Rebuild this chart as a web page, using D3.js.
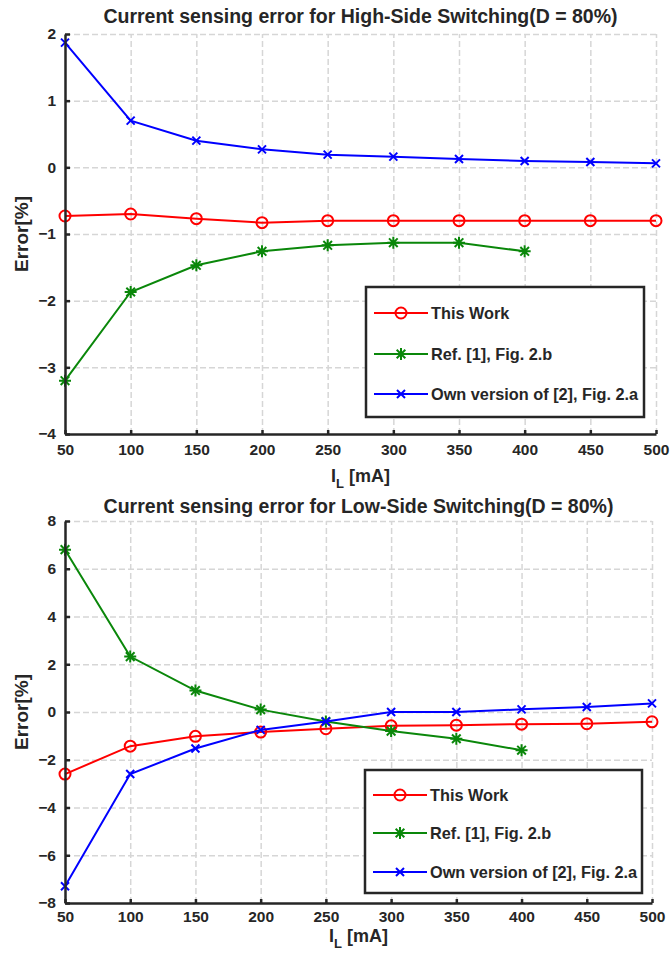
<!DOCTYPE html>
<html>
<head>
<meta charset="utf-8">
<script src="https://cdn.jsdelivr.net/npm/d3@7"></script>
<style>
  body { margin: 0; background: #fff; }
  text { font-family: "Liberation Sans", Arial, sans-serif; font-weight: bold; fill: #262626; }
</style>
</head>
<body>
<script>
// load current in mA
var currents = [50, 100, 150, 200, 250, 300, 350, 400, 450, 500];
var currentsRef = [50, 100, 150, 200, 250, 300, 350, 400];

// high-side switching error [%]
var highThisWork = [-0.73, -0.70, -0.77, -0.83, -0.80, -0.80, -0.80, -0.80, -0.80, -0.80];
var highRef1 = [-3.2, -1.87, -1.47, -1.26, -1.17, -1.13, -1.13, -1.26];
var highOwn2 = [1.87, 0.70, 0.40, 0.27, 0.19, 0.16, 0.125, 0.095, 0.08, 0.06];

// low-side switching error [%]
var lowThisWork = [-2.6, -1.43, -1.02, -0.84, -0.70, -0.58, -0.55, -0.51, -0.49, -0.41];
var lowRef1 = [6.8, 2.32, 0.9, 0.1, -0.4, -0.8, -1.12, -1.6];
var lowOwn2 = [-7.3, -2.6, -1.53, -0.75, -0.4, 0.0, 0.0, 0.11, 0.21, 0.36];

var xTicks = [50, 100, 150, 200, 250, 300, 350, 400, 450, 500];
var highYTicks = [-4, -3, -2, -1, 0, 1, 2];
var lowYTicks = [-8, -6, -4, -2, 0, 2, 4, 6, 8];

var seriesNames = ["This Work", "Ref. [1], Fig. 2.b", "Own version of [2], Fig. 2.a"];
var titles = ["Current sensing error for High-Side Switching(D = 80%)",
              "Current sensing error for Low-Side Switching(D = 80%)"];

var colors = ["#ff0000", "#0a870a", "#0000ff"];
var markers = ["circle", "star", "x"];

var svg = d3.select("body").append("svg")
    .attr("width", 670)
    .attr("height", 955);

function markerPath(type, s) {
  if (type == "star") {
    var d = s * 0.72;
    return "M" + (-s) + ",0H" + s + "M0," + (-s) + "V" + s +
      "M" + (-d) + "," + (-d) + "L" + d + "," + d + "M" + (-d) + "," + d + "L" + d + "," + (-d);
  }
  return "M" + (-s) + "," + (-s) + "L" + s + "," + s + "M" + (-s) + "," + s + "L" + s + "," + (-s);
}

function drawMarker(g, type, color, x, y) {
  if (type == "circle") {
    g.append("circle").attr("cx", x).attr("cy", y).attr("r", 5.5)
      .attr("fill", "none").attr("stroke", color).attr("stroke-width", 2);
  } else {
    g.append("path").attr("transform", "translate(" + x + "," + y + ")")
      .attr("d", markerPath(type, type == "star" ? 6 : 4))
      .attr("fill", "none").attr("stroke", color).attr("stroke-width", 2);
  }
}

function drawChart(cfg) {
  var g = svg.append("g");
  var x = d3.scaleLinear().domain([50, 500]).range([cfg.left, cfg.right]);
  var y = d3.scaleLinear().domain(cfg.yDomain).range([cfg.bottom, cfg.top]);

  // grid
  g.append("g").attr("transform", "translate(0," + cfg.bottom + ")")
    .call(d3.axisBottom(x).tickValues(xTicks.slice(1)).tickSize(-(cfg.bottom - cfg.top)).tickFormat(""))
    .call(function(a) { a.select(".domain").remove(); })
    .selectAll("line").attr("stroke", "#d6d6d6").attr("stroke-width", 1.5).attr("stroke-dasharray", "6,3");
  g.append("g").attr("transform", "translate(" + cfg.left + ",0)")
    .call(d3.axisLeft(y).tickValues(cfg.yTicks.slice(1)).tickSize(-(cfg.right - cfg.left)).tickFormat(""))
    .call(function(a) { a.select(".domain").remove(); })
    .selectAll("line").attr("stroke", "#d6d6d6").attr("stroke-width", 1.5).attr("stroke-dasharray", "6,3");

  // series
  var line = d3.line().x(function(d) { return x(d[0]); }).y(function(d) { return y(d[1]); });
  cfg.series.forEach(function(s, i) {
    var pts = s.xs.map(function(v, j) { return [v, s.ys[j]]; });
    g.append("path").datum(pts).attr("d", line)
      .attr("fill", "none").attr("stroke", colors[i]).attr("stroke-width", 2);
    pts.forEach(function(p) { drawMarker(g, markers[i], colors[i], x(p[0]), y(p[1])); });
  });

  // axes
  var xAxis = g.append("g").attr("transform", "translate(0," + cfg.bottom + ")")
    .call(d3.axisBottom(x).tickValues(xTicks).tickSizeInner(-4).tickSizeOuter(0).tickPadding(cfg.xPad));
  var yAxis = g.append("g").attr("transform", "translate(" + cfg.left + ",0)")
    .call(d3.axisLeft(y).tickValues(cfg.yTicks).tickFormat(d3.format("d"))
      .tickSizeInner(-5).tickSizeOuter(0).tickPadding(9));
  [xAxis, yAxis].forEach(function(a) {
    a.select(".domain").attr("stroke", "#262626").attr("stroke-width", 2.5);
    a.selectAll(".tick line").attr("stroke", "#262626").attr("stroke-width", 2.5);
    a.selectAll(".tick text").style("font-size", "15.5px").style("font-family", null).attr("fill", "#262626");
  });

  // title and labels
  g.append("text").attr("x", (cfg.left + cfg.right) / 2).attr("y", cfg.titleY)
    .attr("text-anchor", "middle").style("font-size", "19.5px").text(cfg.title);
  g.append("text")
    .attr("transform", "translate(28," + (cfg.top + cfg.bottom) / 2 + ") rotate(-90)")
    .attr("text-anchor", "middle").style("font-size", "19px").text("Error[%]");
  var xl = g.append("text").attr("x", (cfg.left + cfg.right) / 2).attr("y", cfg.xLabelY)
    .attr("text-anchor", "middle").style("font-size", "18px");
  xl.append("tspan").text("I");
  xl.append("tspan").attr("dy", 6).style("font-size", "13px").text("L");
  xl.append("tspan").attr("dy", -6).text(" [mA]");

  // legend
  var lg = g.append("g");
  lg.append("rect").attr("x", cfg.legend[0]).attr("y", cfg.legend[1])
    .attr("width", cfg.legend[2]).attr("height", cfg.legend[3])
    .attr("fill", "#fff").attr("stroke", "#262626").attr("stroke-width", 2.5);
  seriesNames.forEach(function(name, i) {
    var ly = cfg.legendRows[i];
    var lx = cfg.legend[0] + 8;
    lg.append("line").attr("x1", lx).attr("x2", lx + 54).attr("y1", ly).attr("y2", ly)
      .attr("stroke", colors[i]).attr("stroke-width", 2);
    drawMarker(lg, markers[i], colors[i], lx + 27, ly);
    lg.append("text").attr("x", lx + 57).attr("y", ly + 5.5).style("font-size", "16.3px").text(name);
  });
}

drawChart({
  left: 65, right: 656, top: 34, bottom: 434,
  yDomain: [-4, 2], yTicks: highYTicks, title: titles[0],
  titleY: 23, xPad: 10, xLabelY: 482,
  series: [
    { xs: currents, ys: highThisWork },
    { xs: currentsRef, ys: highRef1 },
    { xs: currents, ys: highOwn2 }
  ],
  legend: [366, 287, 278, 130], legendRows: [313, 354, 394]
});

drawChart({
  left: 65, right: 652, top: 521, bottom: 903,
  yDomain: [-8, 8], yTicks: lowYTicks, title: titles[1],
  titleY: 513, xPad: 8, xLabelY: 942,
  series: [
    { xs: currents, ys: lowThisWork },
    { xs: currentsRef, ys: lowRef1 },
    { xs: currents, ys: lowOwn2 }
  ],
  legend: [365, 770, 277, 123], legendRows: [795, 833, 872]
});
</script>
</body>
</html>
